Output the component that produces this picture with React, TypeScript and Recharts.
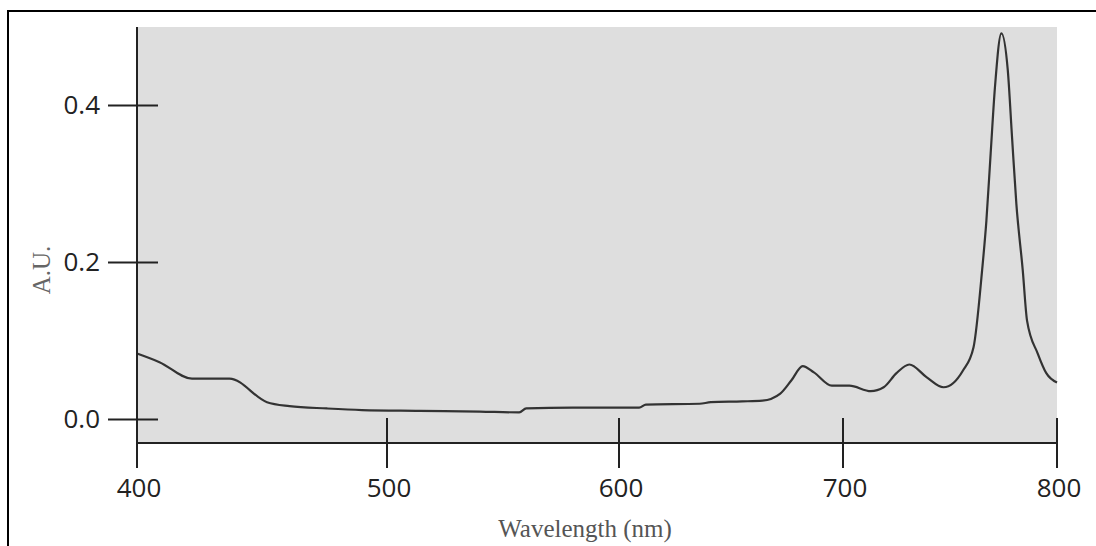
import { LineChart, Line, XAxis, YAxis, CartesianGrid } from 'recharts';

const wavelengths = [
  400, 409, 422, 437, 452, 461, 476, 490, 514, 540, 557, 560, 580, 600, 609, 612,
  636, 641, 655, 664, 672, 677, 682, 687, 695, 703, 713, 719, 725, 731, 739, 747,
  756, 761, 765, 767, 769, 771, 774, 777, 779, 781, 784, 786, 791, 795, 800,
];
const absorbance = [
  0.084, 0.073, 0.052, 0.052, 0.022, 0.017, 0.014, 0.012, 0.011, 0.01, 0.009, 0.014,
  0.015, 0.015, 0.015, 0.019, 0.02, 0.022, 0.023, 0.024, 0.033, 0.05, 0.068, 0.06,
  0.043, 0.043, 0.036, 0.041, 0.059, 0.07, 0.054, 0.041, 0.062, 0.092, 0.19, 0.253,
  0.339, 0.423, 0.492, 0.445, 0.359, 0.275, 0.19, 0.126, 0.084, 0.059, 0.047,
];
const xTickLabels = [400, 500, 600, 700, 800];
const yTickValues = [0, 0.2, 0.4];

// the printed wavelength ticks are not evenly spaced, so map each wavelength
// onto the axis piecewise between the tick marks
const axisStops = [0, 250, 482, 706, 920];

const toAxis = (wl: number) => {
  for (let i = 0; i < xTickLabels.length - 1; i++) {
    const a = xTickLabels[i];
    const b = xTickLabels[i + 1];
    if (wl <= b || i === xTickLabels.length - 2) {
      return axisStops[i] + ((wl - a) / (b - a)) * (axisStops[i + 1] - axisStops[i]);
    }
  }
  return 0;
};

const data = wavelengths.map((wl, i) => ({ wl, pos: toAxis(wl), au: absorbance[i] }));

const tickFont = { fontFamily: 'Open Sans', fontSize: 26, fill: '#222' };

const XTick = (props: any) => {
  const { x, y, index } = props;
  return (
    <g>
      <line x1={x} x2={x} y1={y - 25} y2={y + 25} stroke="#222" strokeWidth={2} />
      <text x={x + 2} y={y + 54} textAnchor="middle" {...tickFont}>
        {xTickLabels[index]}
      </text>
    </g>
  );
};

const YTick = (props: any) => {
  const { x, y, payload } = props;
  return (
    <g>
      <line x1={x - 29} x2={x + 21} y1={y} y2={y} stroke="#222" strokeWidth={2} />
      <text x={x - 37} y={y + 9} textAnchor="end" {...tickFont}>
        {payload.value.toFixed(1)}
      </text>
    </g>
  );
};

export default function App() {
  return (
    <div
      style={{
        position: 'absolute',
        left: 0,
        top: 0,
        width: 1096,
        height: 546,
        overflow: 'hidden',
        background: '#fff',
      }}
    >
      <div
        style={{
          position: 'absolute',
          left: 7,
          top: 10,
          width: 1200,
          height: 700,
          border: '2px solid #000',
        }}
      />
      <LineChart
        width={1096}
        height={546}
        data={data}
        margin={{ top: 27, right: 39, bottom: 43, left: 77 }}
        style={{ position: 'absolute', left: 0, top: 0 }}
      >
        <CartesianGrid horizontal={false} vertical={false} fill="#dedede" />
        <XAxis
          type="number"
          dataKey="pos"
          domain={[0, 920]}
          ticks={xTickLabels.map(toAxis)}
          interval={0}
          height={60}
          tickSize={0}
          tickMargin={0}
          tickLine={false}
          tick={<XTick />}
          axisLine={{ stroke: '#222', strokeWidth: 2 }}
        />
        <YAxis
          type="number"
          domain={[-0.03, 0.5]}
          ticks={yTickValues}
          allowDataOverflow
          interval={0}
          width={60}
          tickSize={0}
          tickMargin={0}
          tickLine={false}
          tick={<YTick />}
          axisLine={{ stroke: '#222', strokeWidth: 2 }}
        />
        <Line
          type="monotone"
          dataKey="au"
          stroke="#333"
          strokeWidth={2.2}
          dot={false}
          isAnimationActive={false}
        />
        <text
          x={50}
          y={270}
          transform="rotate(-90, 50, 270)"
          textAnchor="middle"
          fontFamily="Liberation Serif"
          fontSize={25}
          fill="#666"
        >
          A.U.
        </text>
        <text
          x={585}
          y={537}
          textAnchor="middle"
          fontFamily="Liberation Serif"
          fontSize={25}
          fill="#555"
        >
          Wavelength (nm)
        </text>
      </LineChart>
    </div>
  );
}
